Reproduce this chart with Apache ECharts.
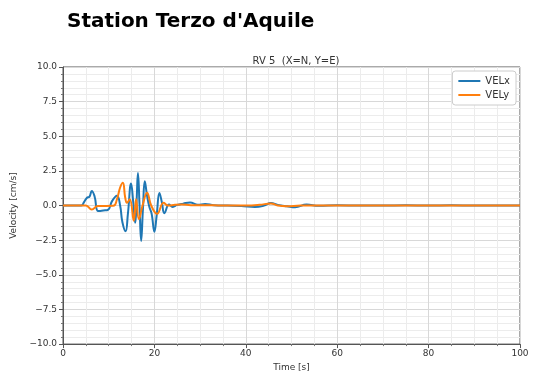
<!DOCTYPE html>
<html>
<head>
<meta charset="utf-8">
<script src="https://cdn.jsdelivr.net/npm/echarts@6/dist/echarts.min.js"></script>
<style>html,body{margin:0;padding:0;background:#fff}#c{width:534px;height:377px}</style>
</head>
<body>
<div id="c"></div>
<script>
const titleText = "Station Terzo d'Aquile";
const subTitle = "RV 5  (X=N, Y=E)";
const seriesNames = ["VELx", "VELy"];
const timeX = [0, 4.0, 4.6, 5.2, 5.8, 6.3, 6.9, 7.7, 8.8, 9.9, 10.7, 11.8, 12.5, 13.0, 13.7, 14.2, 14.9, 15.35, 15.8, 16.1, 16.4, 16.75, 17.1, 17.5, 17.9, 18.4, 18.9, 19.4, 20.0, 20.5, 21.1, 21.6, 22.2, 23.2, 24.0, 25.0, 26.3, 27.8, 29.5, 31.1, 33, 36, 39, 42, 44, 45.5, 47, 49, 50.8, 53.3, 56, 60, 65, 70, 75, 80, 85, 90, 95, 100];
const velX = [0, 0, 0.25, 0.55, 0.65, 1.05, 0.67, -0.4, -0.36, -0.29, 0.3, 0.7, 0.0, -1.2, -1.85, -0.6, 1.6, 0.3, -1.25, 0.3, 2.35, 0.0, -2.55, -0.2, 1.75, 0.7, -0.1, -0.6, -1.9, -0.7, 0.9, 0.3, -0.55, 0.07, -0.1, 0.05, 0.14, 0.22, 0.05, 0.12, 0.03, 0.0, -0.03, -0.1, 0.0, 0.18, 0.05, -0.05, -0.12, 0.07, -0.02, 0.02, 0, 0, 0.02, 0, 0.02, 0, 0, 0];
const timeY = [0, 5.0, 6.3, 7.6, 11.0, 11.8, 12.5, 13.1, 13.6, 14.0, 14.6, 15.5, 16.0, 16.6, 17.4, 18.4, 19.3, 20.6, 22.0, 23.0, 24.5, 26, 28, 31, 35, 40, 43, 45.5, 47, 49, 52, 56, 60, 70, 80, 90, 100];
const velY = [0, 0, -0.29, -0.03, -0.02, 0.45, 1.3, 1.65, 0.6, 0.2, 0.45, -1.1, 0.45, -0.98, 0.0, 0.93, 0.0, -0.6, 0.2, 0.0, 0.05, 0.07, 0.03, 0.03, 0.0, 0.0, 0.05, 0.15, 0.0, -0.05, 0.0, 0.0, 0, 0, 0, 0, 0];
const xTicks = [0, 20, 40, 60, 80, 100];
const yTicks = [-10, -7.5, -5, -2.5, 0, 2.5, 5, 7.5, 10];

const pairs = (t, v) => t.map((x, i) => [x, v[i]]);
const fmtMinus = s => s.replace('-', '\u2212');
const FONT = 'DejaVu Sans';

const chart = echarts.init(document.getElementById('c'), null, {renderer: 'canvas'});
chart.setOption({
  animation: false,
  backgroundColor: '#fff',
  title: [
    {text: titleText, left: 62, top: 7, textStyle: {fontFamily: FONT, fontWeight: 'bold', fontSize: 20, color: '#000'}},
    {text: subTitle, left: 291, top: 51, textAlign: 'center', textStyle: {fontFamily: FONT, fontWeight: 'normal', fontSize: 10, color: '#333'}}
  ],
  grid: {left: 63, right: 14, top: 67, bottom: 29, show: true, borderColor: '#555', borderWidth: 1, backgroundColor: 'transparent'},
  legend: {
    orient: 'vertical', right: 18, top: 71,
    data: seriesNames,
    itemWidth: 22, itemHeight: 2, itemGap: 4,
    icon: 'rect',
    backgroundColor: '#fff', borderColor: '#ccc', borderWidth: 1, borderRadius: 3,
    padding: [5, 6, 5, 6],
    textStyle: {fontFamily: FONT, fontSize: 10, color: '#333'}
  },
  xAxis: {
    type: 'value', min: xTicks[0], max: xTicks[xTicks.length - 1], interval: 20,
    name: 'Time [s]', nameLocation: 'middle', nameGap: 18,
    nameTextStyle: {fontFamily: FONT, fontSize: 9, color: '#333'},
    axisLine: {show: true, onZero: false, lineStyle: {color: '#555'}},
    axisTick: {show: true, length: 4, lineStyle: {color: '#555'}},
    minorTick: {show: true, splitNumber: 4, length: 2, lineStyle: {color: '#777'}},
    axisLabel: {fontFamily: FONT, fontSize: 9, color: '#333', margin: 5},
    splitLine: {show: true, lineStyle: {color: '#d8d8d8', width: 1}},
    minorSplitLine: {show: true, lineStyle: {color: '#ececec', width: 1}}
  },
  yAxis: {
    type: 'value', min: yTicks[0], max: yTicks[yTicks.length - 1], interval: 2.5,
    name: 'Velocity [cm/s]', nameLocation: 'middle', nameGap: 42,
    nameTextStyle: {fontFamily: FONT, fontSize: 9, color: '#333'},
    axisLine: {show: true, onZero: false, lineStyle: {color: '#555'}},
    axisTick: {show: true, length: 4, lineStyle: {color: '#555'}},
    minorTick: {show: true, splitNumber: 5, length: 2, lineStyle: {color: '#777'}},
    axisLabel: {fontFamily: FONT, fontSize: 9, color: '#333', margin: 6, formatter: v => fmtMinus(v.toFixed(1))},
    splitLine: {show: true, lineStyle: {color: '#d8d8d8', width: 1}},
    minorSplitLine: {show: true, lineStyle: {color: '#ececec', width: 1}}
  },
  series: [
    {name: seriesNames[0], type: 'line', data: pairs(timeX, velX), showSymbol: false, smooth: 0.45,
     lineStyle: {color: '#1f77b4', width: 2}, itemStyle: {color: '#1f77b4'}, z: 2},
    {name: seriesNames[1], type: 'line', data: pairs(timeY, velY), showSymbol: false, smooth: 0.45,
     lineStyle: {color: '#ff7f0e', width: 2}, itemStyle: {color: '#ff7f0e'}, z: 3}
  ]
});
</script>
</body>
</html>
